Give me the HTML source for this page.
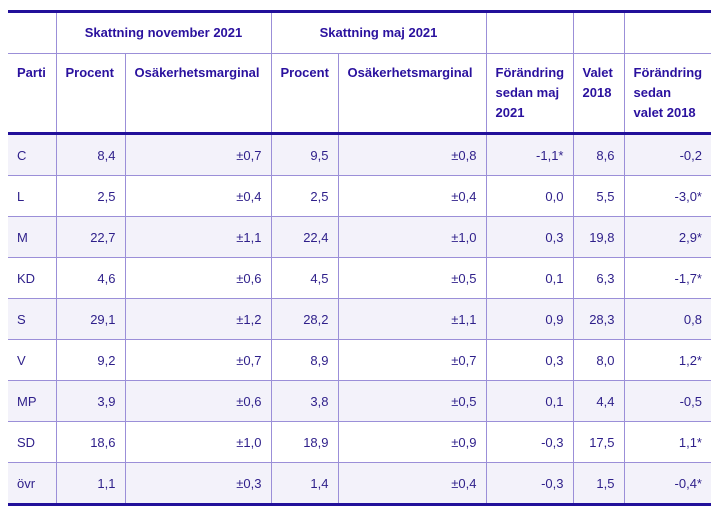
<!DOCTYPE html>
<html><head><meta charset="utf-8"><style>
body{margin:0;background:#fff;}
table{position:absolute;left:8px;top:10px;border-collapse:collapse;table-layout:fixed;width:703px;font-family:"Liberation Sans",sans-serif;font-size:13px;color:#2e1f8a;border-top:3px solid #22109a;border-bottom:3px solid #22109a;}
td,th{border:1px solid #9b8fd8;padding:0 9px;}
tr>*:first-child{border-left:none}
tr>*:last-child{border-right:none}
th{font-weight:bold;color:#2a119e;vertical-align:top;text-align:left;line-height:20px;}
tr.h1 th{height:40px;vertical-align:middle;text-align:center}
tr.h2 th{height:80px;padding-top:9px;box-sizing:border-box}
tr.h2{border-bottom:3px solid #22109a}
td{height:40px;text-align:right}
td:first-child{text-align:left}
tbody tr:nth-child(odd) td{background:#f3f2fa}
</style></head><body>
<table>
<colgroup><col style="width:48px"><col style="width:69px"><col style="width:146px"><col style="width:67px"><col style="width:148px"><col style="width:87px"><col style="width:51px"><col style="width:87px"></colgroup>
<thead>
<tr class="h1"><th></th><th colspan="2">Skattning november 2021</th><th colspan="2">Skattning maj 2021</th><th></th><th></th><th></th></tr>
<tr class="h2"><th>Parti</th><th>Procent</th><th>Osäkerhetsmarginal</th><th>Procent</th><th>Osäkerhetsmarginal</th><th>Förändring sedan maj 2021</th><th>Valet 2018</th><th>Förändring sedan valet 2018</th></tr>
</thead>
<tbody>
<tr><td>C</td><td>8,4</td><td>±0,7</td><td>9,5</td><td>±0,8</td><td>-1,1*</td><td>8,6</td><td>-0,2</td></tr>
<tr><td>L</td><td>2,5</td><td>±0,4</td><td>2,5</td><td>±0,4</td><td>0,0</td><td>5,5</td><td>-3,0*</td></tr>
<tr><td>M</td><td>22,7</td><td>±1,1</td><td>22,4</td><td>±1,0</td><td>0,3</td><td>19,8</td><td>2,9*</td></tr>
<tr><td>KD</td><td>4,6</td><td>±0,6</td><td>4,5</td><td>±0,5</td><td>0,1</td><td>6,3</td><td>-1,7*</td></tr>
<tr><td>S</td><td>29,1</td><td>±1,2</td><td>28,2</td><td>±1,1</td><td>0,9</td><td>28,3</td><td>0,8</td></tr>
<tr><td>V</td><td>9,2</td><td>±0,7</td><td>8,9</td><td>±0,7</td><td>0,3</td><td>8,0</td><td>1,2*</td></tr>
<tr><td>MP</td><td>3,9</td><td>±0,6</td><td>3,8</td><td>±0,5</td><td>0,1</td><td>4,4</td><td>-0,5</td></tr>
<tr><td>SD</td><td>18,6</td><td>±1,0</td><td>18,9</td><td>±0,9</td><td>-0,3</td><td>17,5</td><td>1,1*</td></tr>
<tr><td>övr</td><td>1,1</td><td>±0,3</td><td>1,4</td><td>±0,4</td><td>-0,3</td><td>1,5</td><td>-0,4*</td></tr>
</tbody>
</table>
</body></html>
